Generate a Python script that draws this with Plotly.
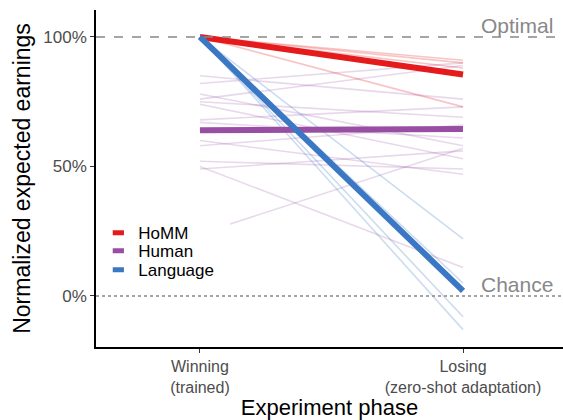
import plotly.graph_objects as go

phases = ["Winning<br>(trained)", "Losing<br>(zero-shot adaptation)"]
phase_x = [1, 2]

groups = ["HoMM", "Human", "Language"]
colors = {"HoMM": "#E41A1C", "Human": "#984EA3", "Language": "#3A78C4"}
faint = {"HoMM": "rgba(228,26,28,0.26)", "Human": "rgba(152,78,163,0.22)",
         "Language": "rgba(58,120,196,0.26)"}

# individual runs / participants (percent of optimal)
human_win = [85, 82, 78, 76, 75, 74, 68, 67, 60, 58, 52, 50, 49, 24]
human_lose = [76, 90, 58, 89, 69, 53, 73, 61, 47, 66, 49, 11, 56, 57]
homm_win = [100, 100, 100, 100]
homm_lose = [91, 90, 88, 73]
lang_win = [100, 100, 100, 100]
lang_lose = [22, 5, -8, -13]

# group means
mean_vals = {
    "HoMM": [100, 85.5],
    "Human": [64, 64.5],
    "Language": [100, 2],
}

indiv = [
    ("Human", human_win, human_lose),
    ("HoMM", homm_win, homm_lose),
    ("Language", lang_win, lang_lose),
]

FONT = "Liberation Sans, Arial, sans-serif"
fig = go.Figure()

for g, w, l in indiv:
    for a, b in zip(w, l):
        fig.add_trace(go.Scatter(x=phase_x, y=[a, b], mode="lines",
                                 line=dict(color=faint[g], width=1.6),
                                 showlegend=False, hoverinfo="skip"))

for g in groups:
    fig.add_trace(go.Scatter(x=phase_x, y=mean_vals[g], mode="lines",
                             line=dict(color=colors[g], width=6),
                             showlegend=False))

legend_ids = ["legend", "legend2", "legend3"]
legend_y = [0.338, 0.284, 0.228]
for g, lid in zip(groups, legend_ids):
    fig.add_trace(go.Scatter(x=[None], y=[None], mode="markers", name=g,
                             legend=lid,
                             marker=dict(symbol="line-ew", size=8,
                                         line=dict(color=colors[g], width=5))))

fig.add_hline(y=100, line=dict(color="#888888", width=1.5, dash="dash"))
fig.add_hline(y=0, line=dict(color="#888888", width=1.5, dash="dot"))

# legend box background (white, drawn above the data lines)
fig.add_shape(type="rect", xref="paper", yref="paper",
              x0=0.004, x1=0.287, y0=0.193, y1=0.371,
              fillcolor="white", line=dict(width=0), layer="above")

fig.add_annotation(x=2.35, y=100, xref="x", yref="y", text="Optimal",
                   showarrow=False, xanchor="right", yanchor="bottom",
                   font=dict(family=FONT, size=21, color="#888888"), yshift=-2)
fig.add_annotation(x=2.35, y=0, xref="x", yref="y", text="Chance",
                   showarrow=False, xanchor="right", yanchor="bottom",
                   font=dict(family=FONT, size=21, color="#888888"), yshift=-2)

leg_common = dict(x=0.005, xanchor="left", yanchor="middle",
                  font=dict(family=FONT, size=17, color="black"),
                  bgcolor="rgba(255,255,255,0)", itemwidth=30)

fig.update_layout(
    width=563, height=420,
    margin=dict(l=96, r=0, t=10, b=73),
    paper_bgcolor="white", plot_bgcolor="white",
    font=dict(family=FONT, color="black"),
    legend=dict(y=legend_y[0], **leg_common),
    legend2=dict(y=legend_y[1], **leg_common),
    legend3=dict(y=legend_y[2], **leg_common),
    xaxis=dict(range=[0.605, 2.38], tickvals=phase_x, ticktext=phases,
               showgrid=False, zeroline=False, showline=True,
               linecolor="black", linewidth=1.5, ticks="outside",
               ticklen=4, tickcolor="#333333",
               tickfont=dict(family=FONT, size=16, color="#4d4d4d"),
               title=dict(text="Experiment phase",
                          font=dict(family=FONT, size=22, color="black"),
                          standoff=3)),
    yaxis=dict(range=[-19.7, 110.4], tickvals=[0, 50, 100],
               ticktext=["0%", "50%", "100%"],
               showgrid=False, zeroline=False, showline=True,
               linecolor="black", linewidth=1.5, ticks="outside",
               ticklen=4, tickcolor="#333333",
               tickfont=dict(family=FONT, size=17, color="#4d4d4d"),
               title=dict(text="Normalized expected earnings",
                          font=dict(family=FONT, size=23, color="black"),
                          standoff=6)),
)

fig.write_html("out.html")
